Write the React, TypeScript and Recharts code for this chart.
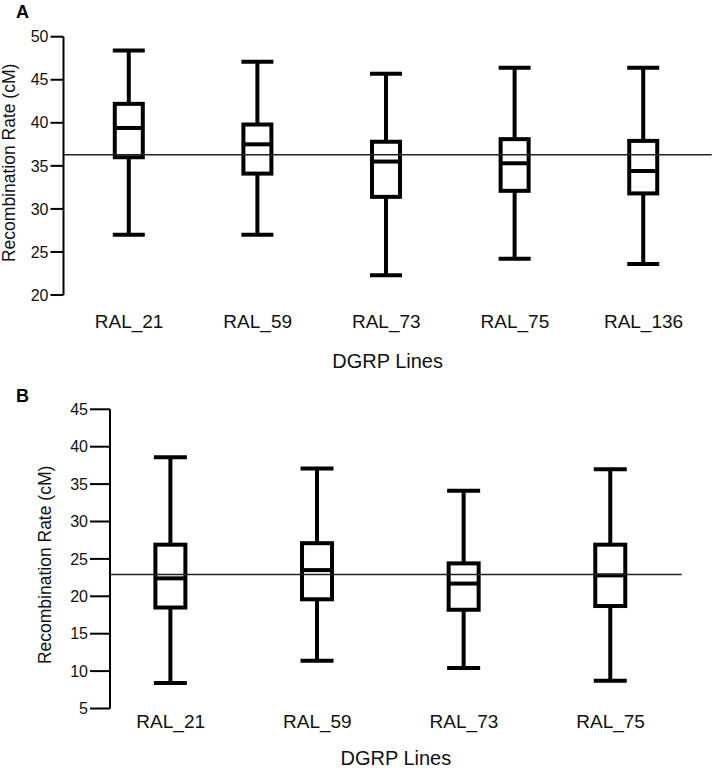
import React from 'react';
import { ComposedChart, Bar, XAxis, YAxis, ReferenceLine } from 'recharts';

const FONT = '"Liberation Sans", Arial, Helvetica, sans-serif';

// Panel A
const linesA = ['RAL_21', 'RAL_59', 'RAL_73', 'RAL_75', 'RAL_136'];
const minA = [27.0, 27.0, 22.3, 24.2, 23.6];
const q1A = [36.0, 34.1, 31.4, 32.1, 31.8];
const medA = [39.4, 37.5, 35.5, 35.3, 34.4];
const q3A = [42.2, 39.8, 37.8, 38.1, 37.9];
const maxA = [48.4, 47.1, 45.7, 46.4, 46.4];
const meanA = 36.3;
const ticksA = [20, 25, 30, 35, 40, 45, 50];

// Panel B
const linesB = ['RAL_21', 'RAL_59', 'RAL_73', 'RAL_75'];
const minB = [8.4, 11.4, 10.4, 8.7];
const q1B = [18.5, 19.6, 18.2, 18.7];
const medB = [22.4, 23.5, 21.7, 22.8];
const q3B = [26.9, 27.1, 24.4, 26.9];
const maxB = [38.6, 37.1, 34.1, 37.0];
const meanB = 22.9;
const ticksB = [5, 10, 15, 20, 25, 30, 35, 40, 45];

const buildRows = (names: string[], mins: number[], q1s: number[], meds: number[], q3s: number[], maxs: number[]) =>
    names.map((name, i) => ({ idx: i, name, min: mins[i], q1: q1s[i], med: meds[i], q3: q3s[i], max: maxs[i] }));

const rowsA = buildRows(linesA, minA, q1A, medA, q3A, maxA);
const rowsB = buildRows(linesB, minB, q1B, medB, q3B, maxB);

// box drawn around the [q1, q3] bar; whiskers use the same pixel scale
function BoxShape(props: any) {
    const { x, y, width, height, payload, boxW, capW } = props;
    if (x == null || payload == null) return null;
    const cx = x + width / 2;
    const top = Math.min(y, y + height);
    const h = Math.abs(height);
    const ppu = h / (payload.q3 - payload.q1);
    const py = (v: number) => top + (payload.q3 - v) * ppu;
    const sw = 4;
    return (
        <g stroke="#000" strokeWidth={sw} fill="none">
            <line x1={cx} x2={cx} y1={py(payload.max)} y2={py(payload.q3)} />
            <line x1={cx} x2={cx} y1={py(payload.q1)} y2={py(payload.min)} />
            <line x1={cx - capW / 2} x2={cx + capW / 2} y1={py(payload.max)} y2={py(payload.max)} />
            <line x1={cx - capW / 2} x2={cx + capW / 2} y1={py(payload.min)} y2={py(payload.min)} />
            <rect x={cx - boxW / 2} y={py(payload.q3)} width={boxW} height={py(payload.q1) - py(payload.q3)} />
            <line x1={cx - boxW / 2} x2={cx + boxW / 2} y1={py(payload.med)} y2={py(payload.med)} />
        </g>
    );
}

function YTitle(props: any) {
    const { viewBox, dx, dy } = props;
    if (!viewBox) return null;
    const tx = viewBox.x + dx;
    const ty = viewBox.y + viewBox.height / 2 + dy;
    return (
        <text x={tx} y={ty} transform={`rotate(-90 ${tx} ${ty})`} textAnchor="middle" fontSize={17.5} fill="#111" fontFamily={FONT}>
            Recombination Rate (cM)
        </text>
    );
}

function XTitle(props: any) {
    const { viewBox, dy } = props;
    if (!viewBox) return null;
    return (
        <text x={viewBox.x + viewBox.width / 2} y={viewBox.y + dy} textAnchor="middle" fontSize={20} fill="#111" fontFamily={FONT}>
            DGRP Lines
        </text>
    );
}

const panelLetter = (top: number): React.CSSProperties => ({
    position: 'absolute',
    left: 16,
    top,
    fontFamily: FONT,
    fontWeight: 'bold',
    fontSize: 18,
    lineHeight: '18px',
    color: '#000',
});

export default function App() {
    return (
        <div style={{ position: 'absolute', left: 0, top: 0, width: 714, height: 768, background: '#fff', overflow: 'hidden' }}>
            <div style={panelLetter(3)}>A</div>
            <div style={panelLetter(387)}>B</div>

            <div style={{ position: 'absolute', left: 0, top: 0 }}>
                <ComposedChart width={714} height={380} data={rowsA} margin={{ top: 36.7, right: 2.3, bottom: 45, left: 13.5 }}>
                    <XAxis
                        dataKey="idx"
                        type="number"
                        domain={[-0.51, 4.53]}
                        ticks={[0, 1, 2, 3, 4]}
                        interval={0}
                        tickFormatter={(i: number) => linesA[i]}
                        axisLine={false}
                        tickLine={false}
                        tickSize={0}
                        tickMargin={19.5}
                        height={40}
                        tick={{ fontSize: 19, fill: '#111', fontFamily: FONT }}
                        label={<XTitle dy={73} />}
                    />
                    <YAxis
                        type="number"
                        domain={[20, 50]}
                        ticks={ticksA}
                        interval={0}
                        width={50}
                        tickSize={13}
                        axisLine={{ stroke: '#000', strokeWidth: 2 }}
                        tickLine={{ stroke: '#000', strokeWidth: 2 }}
                        tick={{ fontSize: 16, fill: '#111', fontFamily: FONT }}
                        label={<YTitle dx={1.5} dy={-3} />}
                    />
                    <Bar
                        dataKey={(d: any) => [d.q1, d.q3]}
                        barSize={28}
                        isAnimationActive={false}
                        shape={(p: any) => <BoxShape {...p} boxW={28} capW={32} />}
                    />
                    <ReferenceLine y={meanA} stroke="#222" strokeWidth={1.5} />
                </ComposedChart>
            </div>

            <div style={{ position: 'absolute', left: 0, top: 380 }}>
                <ComposedChart width={714} height={388} data={rowsB} margin={{ top: 29.3, right: 32.3, bottom: 19.5, left: 50 }}>
                    <XAxis
                        dataKey="idx"
                        type="number"
                        domain={[-0.414, 3.485]}
                        ticks={[0, 1, 2, 3]}
                        interval={0}
                        tickFormatter={(i: number) => linesB[i]}
                        axisLine={false}
                        tickLine={false}
                        tickSize={0}
                        tickMargin={6.3}
                        height={40}
                        tick={{ fontSize: 19, fill: '#111', fontFamily: FONT }}
                        label={<XTitle dy={56} />}
                    />
                    <YAxis
                        type="number"
                        domain={[5, 45]}
                        ticks={ticksB}
                        interval={0}
                        width={60}
                        tickSize={20}
                        axisLine={{ stroke: '#000', strokeWidth: 2 }}
                        tickLine={{ stroke: '#000', strokeWidth: 2 }}
                        tick={{ fontSize: 16, fill: '#111', fontFamily: FONT }}
                        label={<YTitle dx={1} dy={6} />}
                    />
                    <Bar
                        dataKey={(d: any) => [d.q1, d.q3]}
                        barSize={30}
                        isAnimationActive={false}
                        shape={(p: any) => <BoxShape {...p} boxW={30} capW={33} />}
                    />
                    <ReferenceLine y={meanB} stroke="#222" strokeWidth={1.5} />
                </ComposedChart>
            </div>
        </div>
    );
}
